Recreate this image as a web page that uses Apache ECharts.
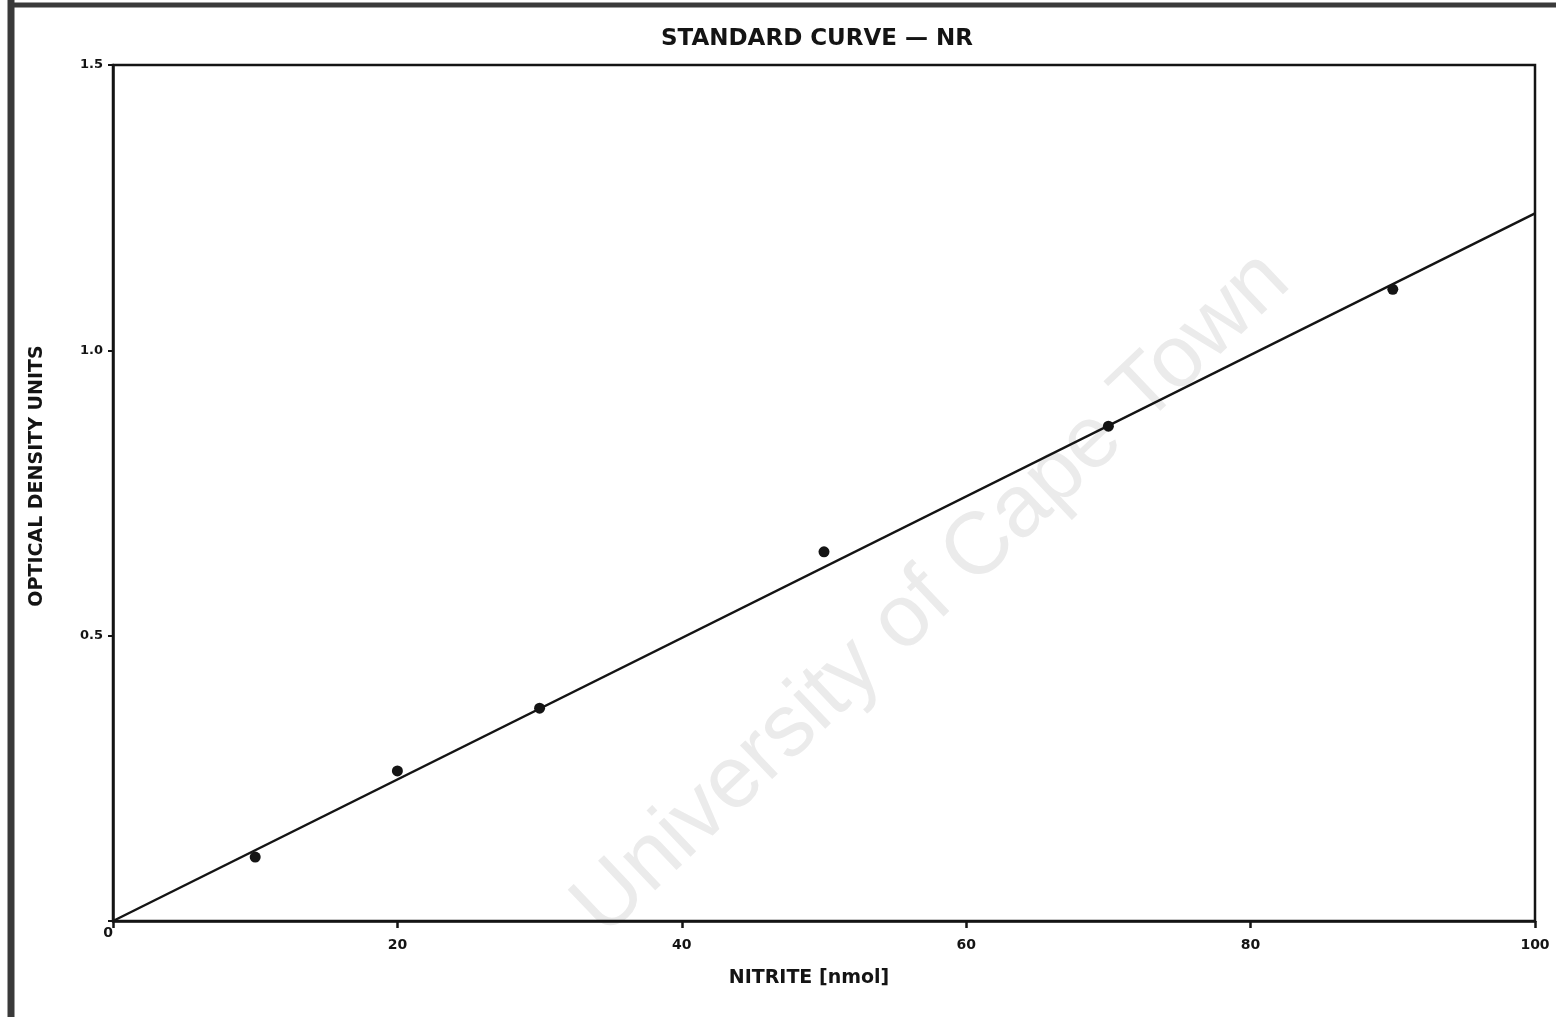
<!DOCTYPE html>
<html>
<head>
<meta charset="utf-8">
<script src="https://cdn.jsdelivr.net/npm/echarts@6/dist/echarts.min.js"></script>
<style>
html,body{margin:0;padding:0;background:#fff;}
#chart{width:1556px;height:1017px;}
</style>
</head>
<body>
<div id="chart"></div>
<script>
// Data
var nitrite = [10, 20, 30, 50, 70, 90];
var opticalDensity = [0.112, 0.263, 0.373, 0.647, 0.867, 1.107];
var fitX = [0, 100];
var fitY = [0, 1.24];
var xTickLabels = [20, 40, 60, 80, 100];
var xOriginLabel = [0];
var yTickLabels = [0.5, 1.0, 1.5];

var titleText = 'STANDARD CURVE \u2014 NR';
var xName = 'NITRITE [nmol]';
var yName = 'OPTICAL DENSITY UNITS';
var watermark = 'University of Cape Town';

var ink = '#141414';
var font = 'DejaVu Sans';

var chart = echarts.init(document.getElementById('chart'), null, {renderer: 'canvas'});

var scatterData = nitrite.map(function (x, i) { return [x, opticalDensity[i]]; });
var fitData = fitX.map(function (x, i) { return [x, fitY[i]]; });

function pick(list, fmt) {
  return function (v) {
    for (var i = 0; i < list.length; i++) {
      if (Math.abs(list[i] - v) < 1e-9) { return fmt ? fmt(v) : String(v); }
    }
    return '';
  };
}

chart.setOption({
  animation: false,
  backgroundColor: '#fff',
  title: {
    text: titleText,
    left: 812, top: 23, textAlign: 'center',
    textStyle: {fontFamily: font, fontWeight: 'bold', fontSize: 23, color: ink}
  },
  grid: {
    left: 113, top: 65, right: 21, bottom: 96,
    show: true, borderColor: ink, borderWidth: 2.5, backgroundColor: 'transparent'
  },
  graphic: [
    {
      type: 'text', z: -10,
      x: 932, y: 594, rotation: 43.5 * Math.PI / 180,
      style: {
        text: watermark, fill: '#ebebeb',
        font: 'normal 88px "Liberation Sans", Arial, sans-serif',
        textAlign: 'center', textVerticalAlign: 'middle'
      },
      silent: true
    },
    {type: 'line', shape: {x1: 11, y1: 0, x2: 11, y2: 1017}, style: {stroke: '#3a3a3a', lineWidth: 7}},
    {type: 'line', shape: {x1: 8, y1: 5, x2: 1556, y2: 5}, style: {stroke: '#3a3a3a', lineWidth: 5}}
  ],
  xAxis: [
    {
      type: 'value', min: 0, max: 100, interval: 20,
      name: xName, nameLocation: 'middle', nameGap: 48,
      nameTextStyle: {fontFamily: font, fontWeight: 'bold', fontSize: 19, color: ink, padding: [0, 30, 0, 0]},
      axisLine: {show: true, lineStyle: {color: ink, width: 2.5}},
      axisTick: {show: true, inside: false, length: 7, lineStyle: {color: ink, width: 2.5}},
      axisLabel: {show: true, margin: 17, fontFamily: font, fontWeight: 'bold', fontSize: 14, color: ink,
                  formatter: pick(xTickLabels)},
      splitLine: {show: false}
    },
    {
      type: 'value', min: 0, max: 100, interval: 20, position: 'bottom', gridIndex: 0,
      axisLine: {show: false}, axisTick: {show: false}, splitLine: {show: false},
      axisLabel: {show: true, margin: 5, align: 'right', fontFamily: font, fontWeight: 'bold', fontSize: 14, color: ink,
                  formatter: pick(xOriginLabel)}
    }
  ],
  yAxis: {
    type: 'value', min: 0, max: 1.5, interval: 0.5,
    name: yName, nameLocation: 'middle', nameGap: 66, nameRotate: 90,
    nameTextStyle: {fontFamily: font, fontWeight: 'bold', fontSize: 19, color: ink, padding: [0, 0, 0, 34]},
    axisLine: {show: true, lineStyle: {color: ink, width: 2.5}},
    axisTick: {show: true, inside: false, length: 5, lineStyle: {color: ink, width: 2}},
    axisLabel: {show: true, margin: 10, fontFamily: font, fontWeight: 'bold', fontSize: 13, color: ink,
                formatter: pick(yTickLabels, function (v) { return v.toFixed(1); })},
    splitLine: {show: false}
  },
  series: [
    {
      type: 'line', data: fitData, xAxisIndex: 0, symbol: 'none', z: 3,
      lineStyle: {color: ink, width: 2.5}
    },
    {
      type: 'scatter', data: scatterData, xAxisIndex: 0, symbol: 'circle', symbolSize: 11, z: 4,
      itemStyle: {color: ink, opacity: 1}
    }
  ]
});
</script>
</body>
</html>
